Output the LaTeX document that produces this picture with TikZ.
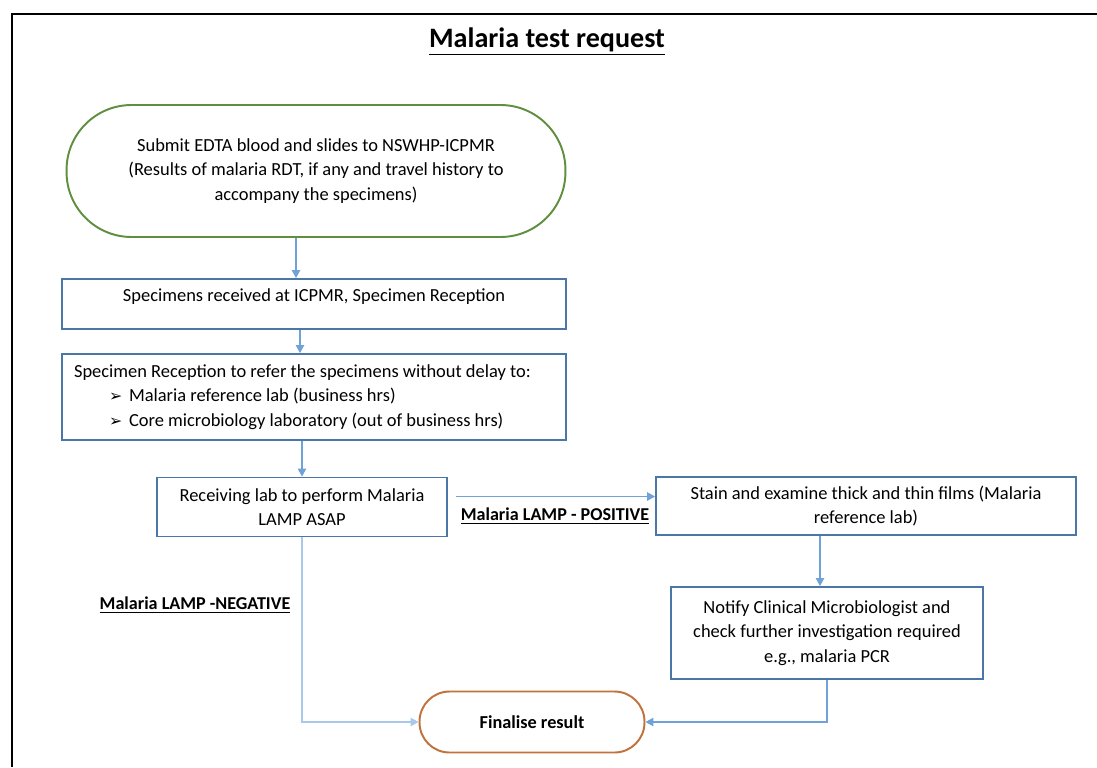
\documentclass[tikz,border=0pt]{standalone}
\usepackage{fontspec}
\setmainfont{Carlito}
\usetikzlibrary{arrows.meta}
\definecolor{linkblue}{HTML}{6FA3D8}
\definecolor{paleblue}{HTML}{A9C8EA}
\definecolor{boxblue}{HTML}{4A76A8}
\definecolor{termgreen}{HTML}{5E8E3E}
\definecolor{termorange}{HTML}{C0723A}
\tikzset{
  stepbox/.style={draw=boxblue, line width=1.1pt, rectangle, inner sep=2pt, align=center},
  termbox/.style={line width=1.1pt, rectangle, align=center},
  link/.style={draw=linkblue, line width=0.6pt, -{Triangle[length=1.6mm,width=1.7mm]}},
  result/.style={font=\fontsize{10.3}{13}\selectfont\bfseries, inner sep=0pt}
}
\begin{document}
\begin{tikzpicture}[x=0.02cm, y=-0.02cm, font=\fontsize{10.5}{13.9}\selectfont]
    \useasboundingbox (0,0) rectangle (1097,767);
    % frame
    \draw[black, line width=1.1pt] (1097,14) -- (12,14) -- (12,767);
    \node[font=\fontsize{16}{19}\selectfont\bfseries] (title) at (547,42) {\underline{Malaria test request}};

    % main column
    \node[termbox, draw=termgreen, rounded corners=1.3cm, minimum width=9.98cm, minimum height=2.64cm] (submit) at (316,171)
        {Submit EDTA blood and slides to NSWHP-ICPMR\\(Results of malaria RDT, if any and travel history to\\accompany the specimens)};
    \node[stepbox, minimum width=10.08cm, minimum height=1cm, text depth=0.35cm] (received) at (314,304)
        {Specimens received at ICPMR, Specimen Reception};
    \node[stepbox, minimum width=10.08cm, minimum height=1.72cm, inner xsep=0.2cm, text width=9.6cm, align=flush left] (refer) at (314,397)
        {Specimen Reception to refer the specimens without delay to:\\
         \hspace*{0.7cm}\makebox[0.4cm][l]{\fontspec{DejaVu Sans}\small ➢}Malaria reference lab (business hrs)\\
         \hspace*{0.7cm}\makebox[0.4cm][l]{\fontspec{DejaVu Sans}\small ➢}Core microbiology laboratory (out of business hrs)};
    \node[stepbox, minimum width=5.8cm, minimum height=1.18cm] (lamp) at (302,507)
        {Receiving lab to perform Malaria\\LAMP ASAP};

    % positive branch
    \node[stepbox, minimum width=8.4cm, minimum height=1.16cm] (stain) at (866,506)
        {Stain and examine thick and thin films (Malaria\\reference lab)};
    \node[stepbox, minimum width=6.24cm, minimum height=1.84cm] (notify) at (827,633)
        {Notify Clinical Microbiologist and\\check further investigation required\\e.g., malaria PCR};
    \node[termbox, draw=termorange, rounded corners=0.6cm, minimum width=4.5cm, minimum height=1.22cm, font=\fontsize{10.4}{13}\selectfont\bfseries] (finalise) at (532,722)
        {Finalise result};

    % result labels
    \node[result] (pos) at (555,516) {\underline{Malaria LAMP - POSITIVE}};
    \node[result] (neg) at (195,605) {\underline{Malaria LAMP -NEGATIVE}};

    % connectors
    \draw[link] ([xshift=-0.4cm]submit.south) -- ([xshift=-0.4cm]submit.south |- received.north);
    \draw[link] ([xshift=-0.28cm]received.south) -- ([xshift=-0.28cm]received.south |- refer.north);
    \draw[link] (lamp.north |- refer.south) -- (lamp.north);
    \draw[link] ([shift={(0.16cm,0.21cm)}]lamp.east) -- ([yshift=0.21cm]lamp.east -| stain.west);
    \draw[link] ([xshift=-0.14cm]notify.north |- stain.south) -- ([xshift=-0.14cm]notify.north);
    \draw[link] (notify.south) |- (finalise.east);
    \draw[link, draw=paleblue] (lamp.south) |- (finalise.west);
\end{tikzpicture}
\end{document}
